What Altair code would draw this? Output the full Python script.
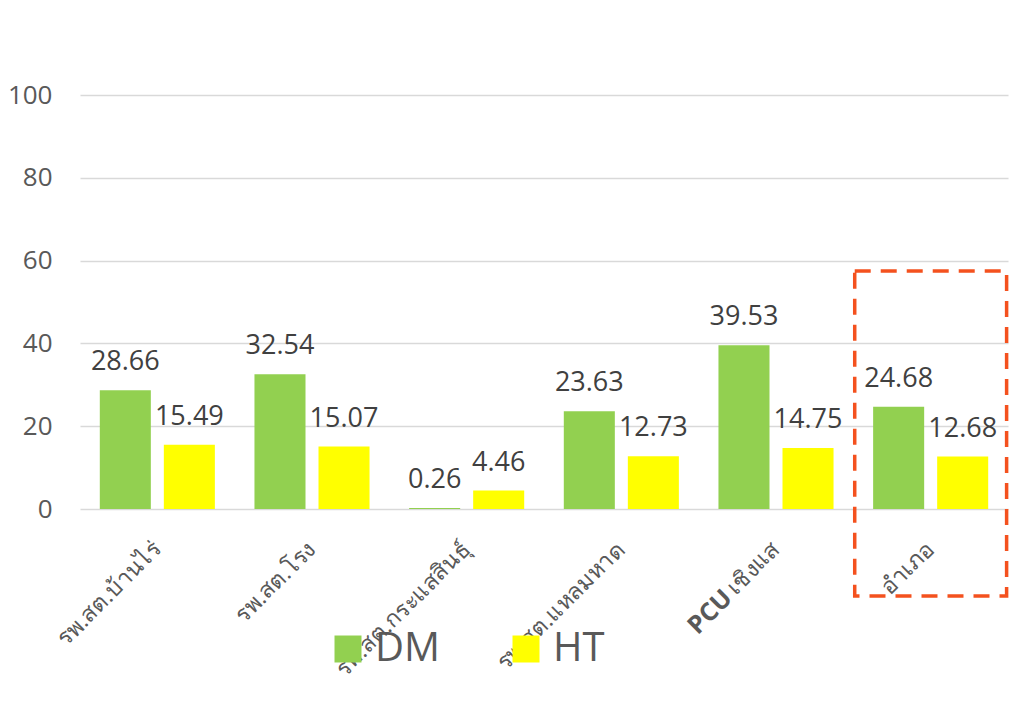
import altair as alt
import pandas as pd

categories = ["รพ.สต.บ้านไร่", "รพ.สต.โรง", "รพ.สต.กระแสสินธุ์", "รพ.สต.แหลมหาด", "PCUเชิงแส", "อำเภอ"]
label_normal = ["รพ.สต.บ้านไร่", "รพ.สต.โรง", "รพ.สต.กระแสสินธุ์", "รพ.สต.แหลมหาด", "เชิงแส", "อำเภอ"]
label_bold = ["", "", "", "", "PCU", ""]
series = ["DM", "HT"]
dm_values = [28.66, 32.54, 0.26, 23.63, 39.53, 24.68]
ht_values = [15.49, 15.07, 4.46, 12.73, 14.75, 12.68]
highlight = ["อำเภอ"]

rows = []
for c, d, h in zip(categories, dm_values, ht_values):
    rows.append({"category": c, "series": "DM", "value": d})
    rows.append({"category": c, "series": "HT", "value": h})
df = pd.DataFrame(rows)
lab = pd.DataFrame({"category": categories, "normal": label_normal, "bold": label_bold})
hl = pd.DataFrame({"category": highlight})

FONT = "Open Sans"
x_scale = alt.Scale(domain=categories, paddingInner=0.256, paddingOuter=0.128)
y_scale = alt.Scale(domain=[0, 100])
color_scale = alt.Scale(domain=series, range=["#92D050", "#FFFF00"])

x_enc = alt.X("category:N", scale=x_scale, sort=categories, axis=None)
y_axis = alt.Axis(values=[0, 20, 40, 60, 80, 100], labelFontSize=26, labelColor="#595959",
                  labelFont=FONT, ticks=False, domain=False, gridColor="#D9D9D9",
                  gridWidth=1.3, labelPadding=28, title=None)

bars = alt.Chart(df).mark_bar().encode(
    x=x_enc,
    xOffset=alt.XOffset("series:N", scale=alt.Scale(domain=series, paddingInner=0.203, paddingOuter=0)),
    y=alt.Y("value:Q", scale=y_scale, axis=y_axis),
    color=alt.Color("series:N", scale=color_scale, legend=alt.Legend(
        orient="none", direction="horizontal", legendX=248, legendY=534, title=None,
        symbolType="square", symbolSize=729, symbolStrokeWidth=0, labelFontSize=40,
        labelFont=FONT, labelColor="#595959", labelOffset=7, columnPadding=66, padding=0)),
)

values_text = alt.Chart(df).mark_text(
    baseline="alphabetic", dy=-20, fontSize=27, font=FONT, color="#404040"
).encode(
    x=x_enc,
    xOffset=alt.XOffset("series:N", scale=alt.Scale(domain=series, paddingInner=0.203, paddingOuter=0)),
    y=alt.Y("value:Q", scale=y_scale),
    text=alt.Text("value:Q", format=".2f"),
)

D = 37
lab_normal = alt.Chart(lab).mark_text(
    angle=315, align="right", baseline="middle", fontSize=23, font=FONT, color="#595959",
    dx=-0.707 * D, dy=0.707 * D
).encode(x=x_enc, y=alt.datum(0), text="normal:N")

lab_bold = alt.Chart(lab).mark_text(
    angle=315, align="right", baseline="middle", fontSize=25, font=FONT, fontWeight="bold",
    color="#595959", dx=-0.707 * D - 68, dy=0.707 * D
).encode(x=x_enc, y=alt.datum(0), text="bold:N")

box = alt.Chart(hl).mark_rect(
    fill="transparent", stroke="#F4511E", strokeWidth=3.5, strokeDash=[16, 10],
    width=alt.RelativeBandSize(1.32)
).encode(x=x_enc, y=alt.datum(57.5), y2=alt.datum(-21))

chart = alt.layer(bars, values_text, lab_normal, lab_bold, box).properties(
    width=928, height=414,
    padding={"left": 72, "top": 87, "right": 5, "bottom": 185},
    autosize=alt.AutoSizeParams(type="none"),
    background="white",
).configure_view(stroke=None)

chart.save("out.html", embed_options={"renderer": "svg", "actions": False})
